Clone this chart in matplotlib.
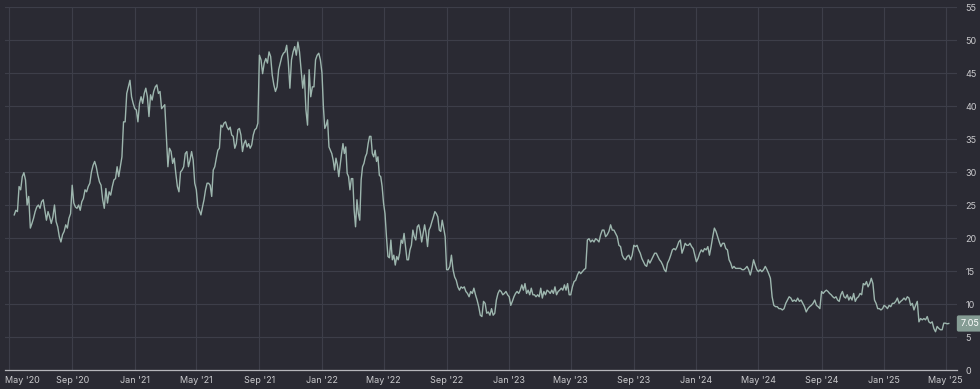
import matplotlib
matplotlib.use("Agg")
import matplotlib.pyplot as plt
import matplotlib.dates as mdates
import matplotlib.transforms as mtransforms
import pandas as pd

# Boundaries of the 4-month blocks (first/last are the data start/end)
block_edges = [
    "2020-05-11", "2020-09-01", "2021-01-01", "2021-05-01", "2021-09-01",
    "2022-01-01", "2022-05-01", "2022-09-01", "2023-01-01", "2023-05-01",
    "2023-09-01", "2024-01-01", "2024-05-01", "2024-09-01", "2025-01-01",
    "2025-05-07",
]

px_may20 = [23.5, 24.2, 24, 27.8, 27.3, 29.3, 29.9, 28.8, 25, 26.3, 21.5, 22.2,
            23, 24, 24.7, 25, 24.5, 25.5, 25.8, 24.2, 22.7, 24, 23.2, 22.2, 23.2,
            25, 22.5, 21.7, 20.2, 19.4, 20.5, 21, 22, 21.5, 23, 23.7]
px_sep20 = [28, 25.3, 24.7, 24.5, 25, 24.2, 25.5, 26, 27.3, 27, 27.8, 28.3, 30,
            31, 31.6, 30.8, 29.5, 28.5, 28, 25.8, 24.5, 27.5, 25.3, 27, 26.5,
            27.8, 28.8, 29, 30.8, 29.3, 30.8, 32.3, 37.6, 37.6, 41.9, 42.9, 43.9,
            41.4, 40.4]
px_jan21 = [39.6, 39.4, 37.6, 40.4, 41.4, 40.4, 41.9, 42.7, 41.4, 38.4, 41.7,
            40.9, 42.2, 42.9, 43.2, 41.9, 42.2, 39.6, 39.9, 40.2, 35.4, 30.8,
            33.6, 33.1, 31.3, 32.1, 29.8, 27.8, 27, 30, 30.3, 30.8, 32.8, 33.1,
            30.8, 31.8, 33.1, 31.8, 28.3]
px_may21 = [27.3, 24.7, 24.2, 23.5, 24.7, 25.8, 27.3, 28.3, 28.3, 28, 26.3, 30.3,
            30.8, 32.1, 33.3, 33.6, 37.1, 36.8, 37.4, 37.6, 36.8, 36.4, 36.8,
            35.6, 35.4, 33.6, 34.3, 36.4, 36.6, 35.6, 33.1, 34.3, 34.8, 33.8,
            34.3, 33.6, 34.1, 35.6, 36.4, 36.6, 37.4]
px_sep21 = [47.7, 47, 44.9, 46.5, 47.2, 46.5, 48.2, 47.5, 44.7, 43.2, 42.2, 42.9,
            45.5, 46.5, 47.5, 48, 48.2, 49.2, 46.7, 42.7, 47, 48.2, 49, 47.7,
            49.7, 48.2, 45.5, 42.7, 44.7, 39.4, 37.1, 45.5, 41.4, 42.9, 42.9, 47,
            47.7, 48, 47]
px_jan22 = [45, 39.9, 36.6, 37.1, 37.9, 33.8, 33.3, 32.8, 31.8, 30.3, 32.1, 31.1,
            29.3, 31.1, 32.8, 34.3, 32.8, 33.8, 29.8, 29.3, 27.3, 29, 29, 24.2,
            21.7, 25.8, 23.7, 22.7, 28.8, 30.8, 31.3, 32.3, 32.8, 34.3, 35.4,
            35.4, 32.8, 32.3, 33.3, 31.6, 32.3, 29.5, 29.3, 27.8]
px_may22 = [25.3, 23.7, 20.2, 17.2, 17, 19.7, 16.7, 17.4, 15.9, 17.2, 16.7, 17.7,
            19.7, 19.2, 20.7, 18.7, 16.7, 16.7, 18.2, 18.9, 21.2, 20.2, 19.7,
            21.7, 22, 21, 19.4, 20.7, 22, 20.7, 18.7, 21.2, 21.7, 22.5, 23.2, 24,
            23.7, 23.2, 21.2, 21, 22.7, 21.5, 20.2]
px_sep22 = [15.2, 15.2, 15.7, 17.4, 15.2, 14.1, 13.6, 12.6, 12.1, 12.6, 12.4,
            12.6, 11.9, 11.6, 11.1, 11.9, 11.6, 12.4, 11.4, 10.6, 9.6, 8.3, 8.1,
            10.4, 10.1, 8.6, 8.8, 8.3, 9.3, 8.3, 8.6, 10.6, 11.6, 12.1, 11.9,
            11.4, 11.6, 11.9, 11.4]
px_jan23 = [11.1, 9.8, 10.4, 11.1, 11.6, 11.9, 11.6, 12.1, 12.9, 12.1, 13.1,
            11.6, 12.1, 11.4, 12.4, 11.4, 11.4, 11.1, 11.4, 11.1, 12.4, 10.9,
            11.9, 11.4, 12.1, 11.9, 11.6, 12.1, 11.6, 12.6, 11.4, 11.9, 12.1,
            12.4, 12.1, 12.9, 12.1, 13.1, 11.4]
px_may23 = [11.4, 12.6, 13.4, 13.6, 14.4, 14.9, 14.6, 14.9, 15.2, 15.4, 19.7,
            19.9, 19.4, 19.7, 19.4, 19.9, 19.7, 19.4, 20.5, 21.2, 21.2, 20.2,
            20.5, 21, 22, 21.2, 21.2, 20.7, 20.2, 18.9, 18.7, 17.4, 16.9, 16.7,
            17.2, 17.4, 16.7, 17.4]
px_sep23 = [18.9, 18.7, 18.9, 18.2, 17.7, 16.9, 16.4, 15.9, 15.7, 16.7, 16.2,
            16.7, 17.2, 17.7, 17.7, 17.2, 16.7, 16.4, 15.9, 15.2, 14.9, 16.2,
            16.7, 17.4, 18.2, 18.4, 18.2, 18.7, 19.4, 19.7, 17.7, 18.4, 19.2,
            18.9, 18.9, 19.2, 18.7, 18.4, 17.4]
px_jan24 = [16.4, 16.9, 17.7, 18.2, 17.9, 18.4, 18.2, 18.7, 17.4, 18.7, 20.2,
            21.5, 21, 20.2, 19.4, 18.7, 19.2, 19.2, 18.4, 18.2, 16.7, 16.2, 15.4,
            15.7, 15.4, 15.4, 15.4, 15.4, 15.2, 15.2, 15.4, 15.7, 15.2, 14.4,
            15.4, 16.7, 15.9, 15.2]
px_may24 = [14.9, 15.2, 14.9, 15.2, 15.7, 15.2, 14.6, 13.9, 11.1, 9.8, 9.6, 9.6,
            9.3, 9.3, 9.1, 9.3, 10.1, 10.6, 11.1, 10.9, 10.4, 10.6, 10.4, 10.9,
            10.4, 10.6, 10.1, 9.6, 8.8, 9.3, 9.6, 9.8, 10.1, 10.6, 9.8, 9.6, 9.3]
px_sep24 = [11.9, 11.6, 11.9, 12.1, 11.9, 11.6, 11.4, 11.1, 10.9, 11.1, 10.6,
            10.4, 11.4, 11.9, 11.1, 10.9, 11.4, 10.6, 11.1, 10.6, 11.6, 10.4,
            10.9, 11.1, 11.6, 11.4, 13.1, 12.9, 13.4, 12.6, 13.1, 13.9, 13.1,
            10.6, 10.1, 9.3, 9.3, 9.1, 9.3]
px_jan25 = [9.8, 9.6, 9.3, 9.8, 9.6, 10.1, 10.1, 10.4, 10.9, 10.1, 10.4, 10.6,
            10.9, 10.6, 11.1, 10.9, 9.8, 10.1, 9.1, 9.8, 10.4, 7.3, 7.8, 7.6, 7.8,
            7.6, 8.1, 7.3, 7.1, 7.3, 6.3, 5.8, 6.6, 6.3, 6.1, 6.1, 7.1, 7.1, 7.0,
            7.05]

blocks = [px_may20, px_sep20, px_jan21, px_may21, px_sep21, px_jan22, px_may22,
          px_sep22, px_jan23, px_may23, px_sep23, px_jan24, px_may24, px_sep24,
          px_jan25]
last_value = 7.05
y_ticks = list(range(0, 60, 5))

BG = "#2a2a33"
GRID = "#3d3e49"
LINE = "#9db6ae"
TEXT = "#c9c9cc"

# spread each block's readings across its date span
dates, prices = [], []
for i, vals in enumerate(blocks):
    start, end = pd.Timestamp(block_edges[i]), pd.Timestamp(block_edges[i + 1])
    last = i == len(blocks) - 1
    rng = pd.date_range(start, end, periods=len(vals) + (0 if last else 1))
    if not last:
        rng = rng[:-1]
    dates.extend(rng)
    prices.extend(vals)
series = pd.Series(prices, index=pd.DatetimeIndex(dates))

plt.rcParams["font.family"] = ["Inter", "DejaVu Sans"]
fig = plt.figure(figsize=(9.8, 3.89), dpi=100, facecolor=BG)
ax = fig.add_axes([0.0051, 0.0488, 0.9714, 0.9332], facecolor=BG)

ax.plot(series.index, series.values, color=LINE, lw=1.0, zorder=3)

ax.set_ylim(0, 55)
ax.set_xlim(pd.Timestamp("2020-04-23"), pd.Timestamp("2025-05-23"))
ax.set_yticks(y_ticks)
ax.yaxis.tick_right()
ax.xaxis.set_major_locator(mdates.MonthLocator(bymonth=[1, 5, 9]))
ax.xaxis.set_major_formatter(mdates.DateFormatter("%b '%y"))
ax.tick_params(axis="both", length=0, colors=TEXT, labelsize=6.5)
ax.tick_params(axis="y", pad=6)
ax.tick_params(axis="x", pad=4)
for lbl in ax.get_yticklabels():
    lbl.set_horizontalalignment("left")

# first date label is pushed right so it stays inside the figure
fig.canvas.draw()
first = ax.get_xticklabels()[0]
first.set_horizontalalignment("left")
first.set_transform(first.get_transform() +
                    mtransforms.ScaledTranslation(-4 / 100, 0, fig.dpi_scale_trans))

ax.grid(True, color=GRID, lw=0.8, zorder=0)
for side in ("top", "right", "left"):
    ax.spines[side].set_visible(False)
ax.spines["bottom"].set_color("#b5b5ba")
ax.spines["bottom"].set_linewidth(0.9)

# last price tag on the right axis
ax.annotate(f"{last_value:.2f}", xy=(1.0, last_value),
            xycoords=("axes fraction", "data"), xytext=(2.5, 0),
            textcoords="offset points", ha="left", va="center",
            fontsize=6.5, color="white",
            bbox=dict(boxstyle="round,pad=0.4,rounding_size=0.2",
                      fc="#859c94", ec="none"))

plt.savefig("out.png", dpi=100, facecolor=BG)
